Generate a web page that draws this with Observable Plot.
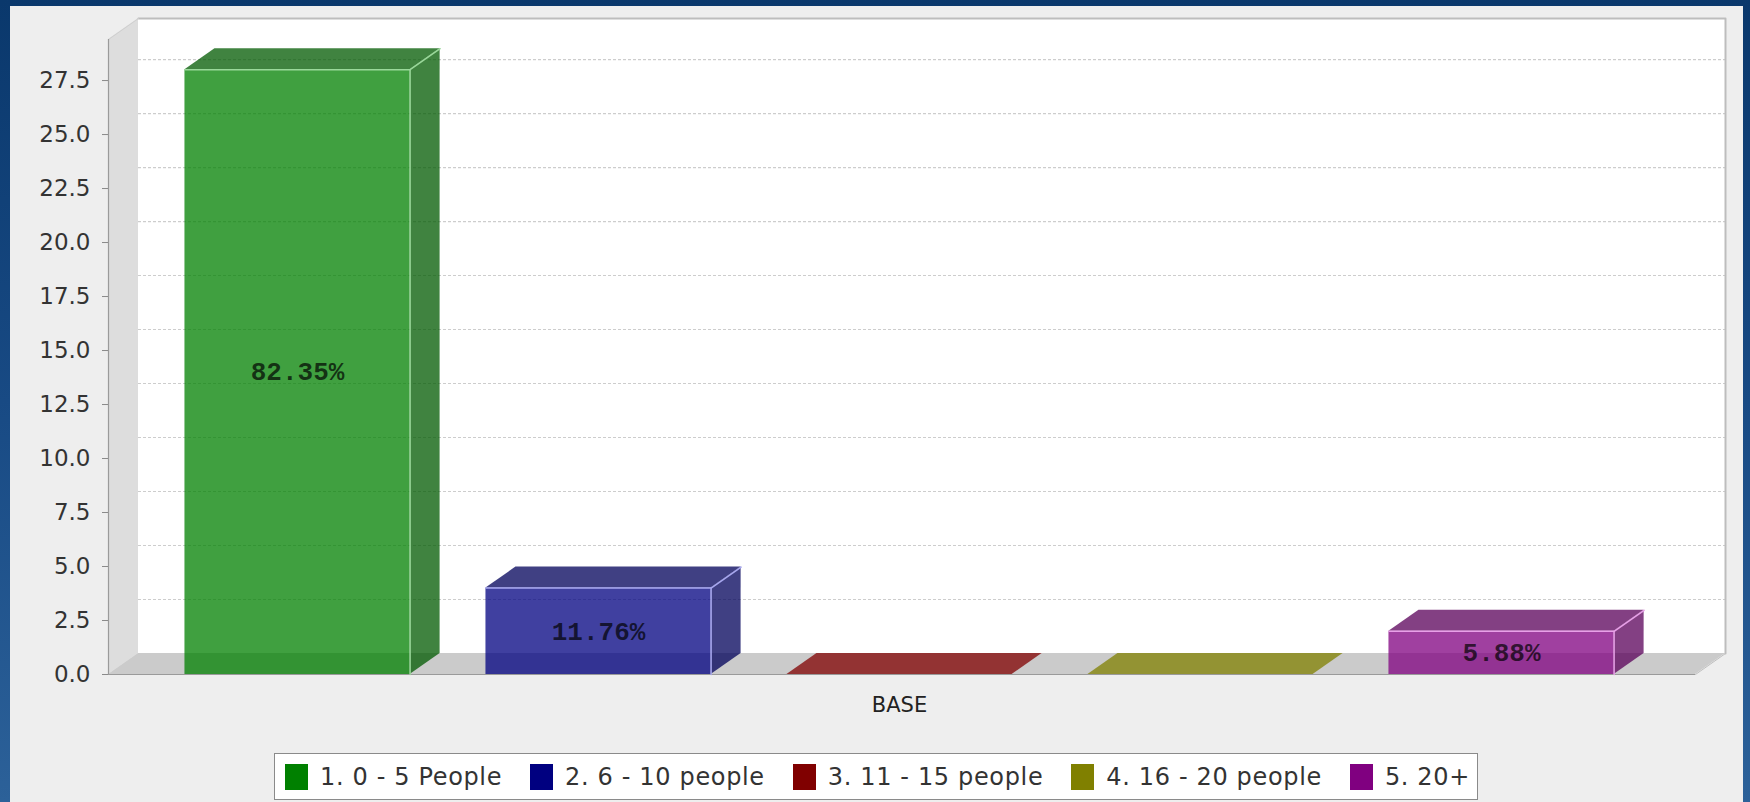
<!DOCTYPE html>
<html>
<head>
<meta charset="utf-8">
<script src="https://cdn.jsdelivr.net/npm/d3@7"></script>
<script src="https://cdn.jsdelivr.net/npm/@observablehq/plot@0.6"></script>
<style>
html, body { margin: 0; padding: 0; }
body {
  width: 1750px; height: 802px; overflow: hidden; position: relative;
  background: linear-gradient(180deg, #0a386c 0%, #184a84 50%, #2c6199 100%);
  font-family: "DejaVu Sans", sans-serif;
}
#panel { position: absolute; left: 10px; top: 6px; width: 1733px; height: 796px; background: #eeeeee; }
#chart { position: absolute; left: 0; top: 0; }
#legend {
  position: absolute; left: 274px; top: 753px; width: 1204px; height: 47px; box-sizing: border-box;
  background: #ffffff; border: 1px solid #8a8a8a; display: flex; align-items: center;
  padding-left: 10px; gap: 28px;
}
#legend .item { display: flex; align-items: center; gap: 12px; }
#legend .sw { width: 23px; height: 26px; display: inline-block; }
#legend .tx { font-family: "DejaVu Sans", sans-serif; font-size: 24px; color: #333; letter-spacing: 0.65px; white-space: nowrap; }
</style>
</head>
<body>
<div id="panel"></div>
<div id="chart"></div>
<div id="legend"></div>
<script>
// ---- data ----
const categories = ["BASE"];
const seriesNames = ["1. 0 - 5 People", "2. 6 - 10 people", "3. 11 - 15 people", "4. 16 - 20 people", "5. 20+"];
const seriesValues = [28, 4, 0, 0, 2];
const yTicks = [0, 2.5, 5, 7.5, 10, 12.5, 15, 17.5, 20, 22.5, 25, 27.5];

// ---- styles ----
const baseColors = ["#008000", "#000080", "#800000", "#808000", "#800080"];
const darkColors = ["#005900", "#000059", "#590000", "#595900", "#590059"];
const edgeColors = ["#9ad89a", "#a8a8f0", "#e09a9a", "#d8d89a", "#e8a0e8"];

// ---- layout ----
const W = 1750, H = 730;
const M = {top: 39, right: 55, bottom: 56, left: 108};
const yMax = d3.max(seriesValues) * 1.05;
const stepPx = 301;
const xMax = (W - M.left - M.right) / stepPx;
const lowerMargin = 0.254, barFrac = 0.748;
const pxY = (H - M.top - M.bottom) / yMax;
const dX = 30 / stepPx, dY = 21 / pxY;

const total = d3.sum(seriesValues);
const bars = seriesNames.map((name, i) => ({
  name, i, value: seriesValues[i],
  x0: lowerMargin + i, x1: lowerMargin + i + barFrac,
  front: baseColors[i],
  top: seriesValues[i] > 0 ? darkColors[i] : baseColors[i],
  side: darkColors[i],
  edge: edgeColors[i],
  label: (seriesValues[i] / total * 100).toFixed(2) + "%"
}));
const nonZero = bars.filter(d => d.value > 0);

const topPts = bars.flatMap(d => [
  {name: d.name, y: d.value, xa: d.x0, xb: d.x1, c: d.top},
  {name: d.name, y: d.value + dY, xa: d.x0 + dX, xb: d.x1 + dX, c: d.top}
]);
const sidePts = nonZero.flatMap(d => [
  {name: d.name, x: d.x1, ya: 0, yb: d.value, c: d.side},
  {name: d.name, x: d.x1 + dX, ya: dY, yb: d.value + dY, c: d.side}
]);
const edgePts = nonZero.flatMap(d => [
  {k: d.name + "a", x: d.x0, y: d.value, c: d.edge},
  {k: d.name + "a", x: d.x1, y: d.value, c: d.edge},
  {k: d.name + "a", x: d.x1 + dX, y: d.value + dY, c: d.edge},
  {k: d.name + "b", x: d.x1, y: d.value, c: d.edge},
  {k: d.name + "b", x: d.x1, y: 0, c: d.edge}
]);

const leftWall = [{x: 0, ya: 0, yb: yMax}, {x: dX, ya: dY, yb: yMax + dY}];
const floor = [{y: 0, xa: 0, xb: xMax}, {y: dY, xa: dX, xb: xMax + dX}];
const backWall = [{xa: dX, xb: xMax + dX, ya: dY, yb: yMax + dY}];
const wallEdge = [{x: dX, y: yMax + dY}, {x: xMax + dX, y: yMax + dY}, {x: xMax + dX, y: dY}];
const groupCenter = (bars[0].x0 + bars[bars.length - 1].x1) / 2;

const plot = Plot.plot({
  width: W, height: H,
  marginTop: M.top, marginRight: M.right, marginBottom: M.bottom, marginLeft: M.left,
  x: {domain: [0, xMax], axis: null},
  y: {domain: [0, yMax], axis: null},
  color: {type: "identity"},
  style: {background: "transparent", fontFamily: "DejaVu Sans", overflow: "visible"},
  marks: [
    Plot.area(leftWall, {x1: "x", y1: "ya", y2: "yb", fill: "#dddddd"}),
    Plot.rect(backWall, {x1: "xa", x2: "xb", y1: "ya", y2: "yb", fill: "#ffffff"}),
    Plot.area(floor, {y1: "y", x1: "xa", x2: "xb", fill: "#cbcbcb"}),
    Plot.ruleY(yTicks.filter(t => t > 0), {y: t => t + dY, x1: () => dX, x2: () => xMax + dX,
      stroke: "#cdcdcd", strokeWidth: 1.2, strokeDasharray: "3,2"}),
    Plot.line(wallEdge, {x: "x", y: "y", stroke: "#bdbdbd", strokeWidth: 2}),
    Plot.line([{x: 0, y: yMax}, {x: dX, y: yMax + dY}], {x: "x", y: "y", stroke: "#cfcfcf", strokeWidth: 1}),
    Plot.line([{x: xMax, y: 0}, {x: xMax + dX, y: dY}], {x: "x", y: "y", stroke: "#bfbfbf", strokeWidth: 1}),
    Plot.ruleX([0], {y1: () => 0, y2: () => yMax, stroke: "#9a9a9a", strokeWidth: 1.2}),
    Plot.ruleY([0], {x1: () => 0, x2: () => xMax, stroke: "#9a9a9a", strokeWidth: 1.2}),
    // bars
    Plot.rect(nonZero, {x1: "x0", x2: "x1", y1: () => 0, y2: "value", fill: "front", fillOpacity: 0.75}),
    Plot.area(sidePts, {x1: "x", y1: "ya", y2: "yb", z: "name", fill: "c", fillOpacity: 0.75}),
    Plot.area(topPts, {y1: "y", x1: "xa", x2: "xb", z: "name", fill: "c", fillOpacity: 0.75}),
    Plot.line(edgePts, {x: "x", y: "y", z: "k", stroke: "c", strokeWidth: 1.5}),
    Plot.text(nonZero, {x: d => (d.x0 + d.x1) / 2, y: d => d.value / 2, text: "label",
      fontFamily: "Liberation Mono", fontWeight: "bold", fontSize: 26, fill: "#000000", fillOpacity: 0.7}),
    // axes
    Plot.axisY(yTicks, {tickFormat: d => d.toFixed(1), tickSize: 6, tickPadding: 12, fontSize: 23,
      fill: "#333333", stroke: "#8a8a8a", label: null}),
    Plot.text(categories, {x: () => groupCenter, y: () => 0, text: d => d, dy: 31,
      fontSize: 21, fill: "#222222"})
  ]
});
document.getElementById("chart").appendChild(plot);

// legend
const legend = d3.select("#legend");
seriesNames.forEach((name, i) => {
  const it = legend.append("div").attr("class", "item");
  it.append("span").attr("class", "sw").style("background", baseColors[i]);
  it.append("span").attr("class", "tx").text(name);
});
</script>
</body>
</html>
